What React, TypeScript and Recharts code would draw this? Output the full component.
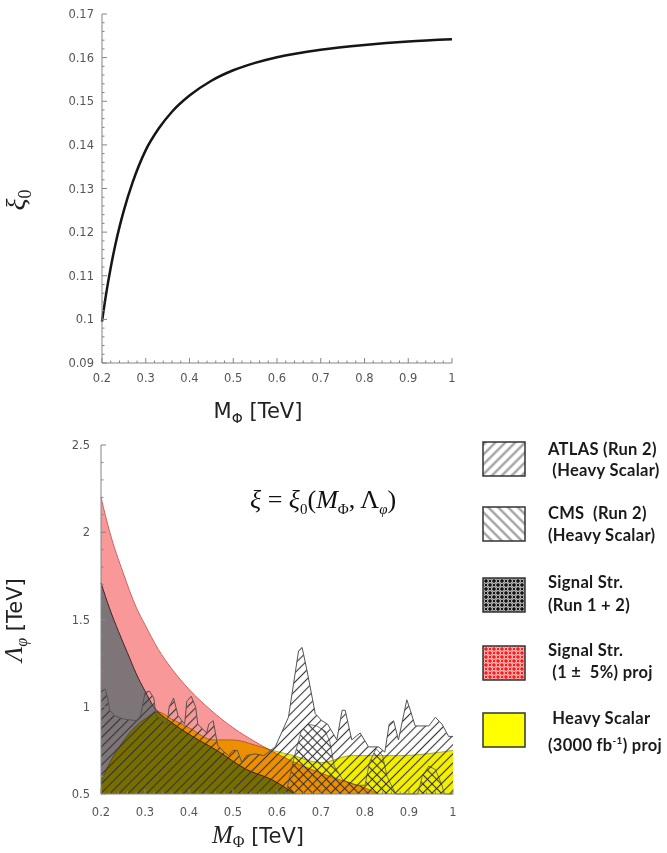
import React from "react"
import { ComposedChart, LineChart, Line, Area, XAxis, YAxis, Legend } from "recharts"

// ---- top panel: xi_0 against M_Phi ----
const massTop = [0.2, 0.21, 0.22, 0.23, 0.24, 0.25, 0.27, 0.3, 0.33, 0.36, 0.4, 0.45, 0.5, 0.55, 0.6, 0.7, 0.8, 0.9, 1.0]
const xi0 = [0.0995, 0.1062, 0.1119, 0.1169, 0.1212, 0.125, 0.1314, 0.1388, 0.1438, 0.1476, 0.1513, 0.1547, 0.1571, 0.1588, 0.1601, 0.1618, 0.1629, 0.1637, 0.1642]

const massMajor = [0.2, 0.3, 0.4, 0.5, 0.6, 0.7, 0.8, 0.9, 1]
const massLabels = ["0.2", "0.3", "0.4", "0.5", "0.6", "0.7", "0.8", "0.9", "1"]
const xiMajor = [0.09, 0.1, 0.11, 0.12, 0.13, 0.14, 0.15, 0.16, 0.17]
const xiLabels = ["0.09", "0.1", "0.11", "0.12", "0.13", "0.14", "0.15", "0.16", "0.17"]

// ---- bottom panel: exclusion regions in (M_Phi, Lambda_phi) ----
const yellowMass = [0.2, 0.22, 0.25, 0.28, 0.3, 0.33, 0.36, 0.4, 0.455, 0.5, 0.55, 0.59, 0.637, 0.7, 0.77, 0.83, 0.88, 0.94, 1.0]
const yellowLambda = [0.57, 0.68, 0.8, 0.89, 0.93, 0.97, 0.93, 0.88, 0.81, 0.81, 0.78, 0.75, 0.72, 0.68, 0.72, 0.72, 0.72, 0.73, 0.75]

const darkMass = [0.2, 0.22, 0.24, 0.26, 0.28, 0.3, 0.32, 0.33, 0.36, 0.395, 0.463, 0.531, 0.59, 0.64]
const darkLambda = [1.71, 1.56, 1.43, 1.31, 1.19, 1.09, 1.0, 0.97, 0.91, 0.85, 0.75, 0.64, 0.58, 0.5]

const redMass = [0.2, 0.22, 0.25, 0.28, 0.3, 0.33, 0.36, 0.4, 0.45, 0.5, 0.55, 0.6, 0.65, 0.7, 0.75, 0.8, 0.83]
const redLambda = [2.2, 2.0, 1.77, 1.57, 1.47, 1.33, 1.22, 1.1, 0.98, 0.88, 0.8, 0.73, 0.67, 0.62, 0.575, 0.535, 0.5]

const atlasMass = [0.2, 0.21, 0.215, 0.22, 0.23, 0.25, 0.28, 0.29, 0.3, 0.31, 0.32, 0.325, 0.35, 0.355, 0.365, 0.375, 0.39, 0.395, 0.405, 0.415, 0.42, 0.44, 0.445, 0.455, 0.46, 0.465, 0.48, 0.49, 0.5, 0.51, 0.52, 0.53, 0.55, 0.57, 0.596, 0.626, 0.649, 0.657, 0.668, 0.687, 0.702, 0.715, 0.736, 0.748, 0.755, 0.77, 0.789, 0.808, 0.831, 0.845, 0.855, 0.865, 0.876, 0.895, 0.903, 0.914, 0.945, 0.96, 0.975, 0.99, 1.0]
const atlasLambda = [1.1, 1.1, 1.05, 0.98, 0.95, 0.93, 0.92, 0.95, 1.08, 1.09, 1.05, 0.95, 0.9, 1.0, 1.05, 0.95, 0.9, 1.03, 1.06, 1.0, 0.9, 0.85, 0.9, 0.92, 0.85, 0.78, 0.74, 0.72, 0.75, 0.75, 0.68, 0.72, 0.73, 0.72, 0.77, 0.94, 1.32, 1.34, 1.21, 0.96, 0.92, 0.9, 0.81, 0.98, 0.98, 0.81, 0.85, 0.77, 0.77, 0.74, 0.9, 0.92, 0.81, 1.04, 0.98, 0.89, 0.89, 0.94, 0.9, 0.83, 0.83]

const cmsMass = [0.62, 0.64, 0.655, 0.67, 0.69, 0.71, 0.72, 0.73, 0.75, 0.78, 0.8, 0.81, 0.825, 0.84, 0.85, 0.87, 0.92, 0.93, 0.945, 0.96, 0.975, 0.98, 1.0]
const cmsLambda = [0.5, 0.72, 0.86, 0.9, 0.89, 0.86, 0.8, 0.66, 0.58, 0.55, 0.55, 0.68, 0.76, 0.72, 0.6, 0.5, 0.5, 0.6, 0.66, 0.64, 0.55, 0.5, 0.5]

const lambdaMajor = [0.5, 1, 1.5, 2, 2.5]
const lambdaLabels = ["0.5", "1", "1.5", "2", "2.5"]

const legendNames = [
  ["ATLAS (Run 2)", " (Heavy Scalar)"],
  ["CMS  (Run 2)", "(Heavy Scalar)"],
  ["Signal Str.", "(Run 1 + 2)"],
  ["Signal Str.", " (1 \u00b1  5%) proj"],
  [" Heavy Scalar", "(3000 fb"],
]

const steps = (a: number, b: number, s: number) =>
  Array.from({ length: Math.round((b - a) / s) + 1 }, (_, i) => +(a + i * s).toFixed(4))

const massTicks = steps(0.2, 1, 0.02)
const xiTicks = steps(0.09, 0.17, 0.002)
const lambdaTicks = steps(0.5, 2.5, 0.1)

const topData = massTop.map((m, i) => ({ m, xi: xi0[i] }))

const bands: Record<string, [number[], number[]]> = {
  yellow: [yellowMass, yellowLambda],
  dark: [darkMass, darkLambda],
  red: [redMass, redLambda],
  cms: [cmsMass, cmsLambda],
  atlas: [atlasMass, atlasLambda],
}
const allMass = Array.from(new Set(Object.values(bands).flatMap(([xs]) => xs))).sort((a, b) => a - b)
const bottomData = allMass.map((m) => {
  const row: Record<string, number> = { m }
  for (const k of Object.keys(bands)) {
    const [xs, ys] = bands[k]
    const i = xs.indexOf(m)
    if (i >= 0) row[k] = ys[i]
  }
  return row
})

const frame = "#858585"
const tickFont = { fontFamily: "DejaVu Sans", fontSize: 11.5, fill: "#555" }

function makeTick(side: string, majors: number[], labels: string[], gap: number) {
  return (props: any) => {
    const { x, y, payload } = props
    const idx = majors.findIndex((v) => Math.abs(v - payload.value) < 1e-6)
    const len = idx >= 0 ? 5 : 2.5
    let line = null
    let text = null
    if (side === "bottom") {
      line = <line x1={x} y1={y} x2={x} y2={y - len} />
      if (idx >= 0) text = <text x={x} y={y + gap} textAnchor="middle" {...tickFont}>{labels[idx]}</text>
    } else if (side === "top") {
      line = <line x1={x} y1={y} x2={x} y2={y + len} />
    } else if (side === "left") {
      line = <line x1={x} y1={y} x2={x + len} y2={y} />
      if (idx >= 0) text = <text x={x - gap} y={y + 4} textAnchor="end" {...tickFont}>{labels[idx]}</text>
    } else {
      line = <line x1={x} y1={y} x2={x - len} y2={y} />
    }
    return (
      <g stroke={frame} strokeWidth={1}>
        {line}
        <g stroke="none">{text}</g>
      </g>
    )
  }
}

function Swatch({ kind }: { kind: string }) {
  const id = `sw-${kind}`
  let fill = `url(#${id})`
  if (kind === "yellow") fill = "#ffff00"
  return (
    <svg width={44} height={36} style={{ display: "block" }}>
      <defs>
        <pattern id="sw-atlas" width={7} height={7} patternUnits="userSpaceOnUse" patternTransform="rotate(45)">
          <rect width={7} height={7} fill="#fff" />
          <line x1={3.5} y1={0} x2={3.5} y2={7} stroke="#9b9b9b" strokeWidth={2.2} />
        </pattern>
        <pattern id="sw-cms" width={7} height={7} patternUnits="userSpaceOnUse" patternTransform="rotate(-45)">
          <rect width={7} height={7} fill="#fff" />
          <line x1={3.5} y1={0} x2={3.5} y2={7} stroke="#9b9b9b" strokeWidth={2.2} />
        </pattern>
        <pattern id="sw-dark" width={8} height={8} patternUnits="userSpaceOnUse">
          <rect width={8} height={8} fill="#111" />
          {[[0, 0], [8, 0], [0, 8], [8, 8], [4, 4]].map(([cx, cy], i) => (
            <circle key={i} cx={cx} cy={cy} r={2.4} fill="none" stroke="#fff" strokeWidth={0.9} />
          ))}
        </pattern>
        <pattern id="sw-red" width={8} height={8} patternUnits="userSpaceOnUse">
          <rect width={8} height={8} fill="#ff1a1a" />
          {[[0, 0], [8, 0], [0, 8], [8, 8], [4, 4]].map(([cx, cy], i) => (
            <circle key={i} cx={cx} cy={cy} r={2.4} fill="none" stroke="#fff" strokeWidth={0.9} />
          ))}
        </pattern>
      </defs>
      <rect x={1} y={1} width={42} height={34} fill={fill} stroke="#333" strokeWidth={1.5} />
    </svg>
  )
}

const legendRows = [
  { kind: "atlas", box: 11, l1: 19, l2: 40, x1: 548, x2: 548 },
  { kind: "cms", box: 76, l1: 83, l2: 105, x1: 548, x2: 548 },
  { kind: "dark", box: 147, l1: 152, l2: 175, x1: 548, x2: 548 },
  { kind: "red", box: 215, l1: 220, l2: 242, x1: 548, x2: 548 },
  { kind: "yellow", box: 282, l1: 288, l2: 310, x1: 548, x2: 548 },
]

const legendText: React.CSSProperties = {
  position: "absolute",
  fontFamily: "Lato",
  fontWeight: 700,
  fontSize: 16.5,
  letterSpacing: 0.3,
  lineHeight: "20px",
  color: "#1a1a1a",
  whiteSpace: "pre",
}

function LegendBox() {
  return (
    <div style={{ position: "relative", width: 667, height: 423 }}>
      {legendRows.map((r, i) => (
        <React.Fragment key={r.kind}>
          <div style={{ position: "absolute", left: 482, top: r.box }}>
            <Swatch kind={r.kind} />
          </div>
          <div style={{ ...legendText, left: r.x1, top: r.l1 - 10 }}>{legendNames[i][0]}</div>
          <div style={{ ...legendText, left: r.x2, top: r.l2 - 10 }}>
            {legendNames[i][1]}
            {r.kind === "yellow" ? (
              <>
                <sup style={{ fontSize: 10 }}>-1</sup>) proj
              </>
            ) : null}
          </div>
        </React.Fragment>
      ))}
    </div>
  )
}

function TopPanel() {
  return (
    <LineChart width={470} height={430} data={topData} margin={{ top: 14, right: 18, bottom: 0, left: 0 }}>
      <XAxis
        dataKey="m"
        type="number"
        domain={[0.2, 1]}
        ticks={massTicks}
        interval={0}
        tickSize={0}
        tickMargin={0}
        height={67}
        axisLine={{ stroke: frame }}
        tick={makeTick("bottom", massMajor, massLabels, 19)}
        label={() => (
          <text x={258} y={418} textAnchor="middle" fontFamily="DejaVu Sans" fontSize={21} fill="#222">
            M<tspan fontSize={14} dy={5}>Φ</tspan>
            <tspan dy={-5}> [TeV]</tspan>
          </text>
        )}
      />
      <XAxis xAxisId="t" orientation="top" type="number" domain={[0.2, 1]} ticks={massTicks} interval={0} tickSize={0} tickMargin={0} height={0} axisLine={{ stroke: frame }} tick={makeTick("top", massMajor, massLabels, 0)} />
      <YAxis
        type="number"
        domain={[0.09, 0.17]}
        ticks={xiTicks}
        interval={0}
        tickSize={0}
        tickMargin={0}
        width={102}
        axisLine={{ stroke: frame }}
        tick={makeTick("left", xiMajor, xiLabels, 8)}
        label={() => (
          <text x={25} y={200} transform="rotate(-90 25 200)" textAnchor="middle" fontFamily="Liberation Serif" fontStyle="italic" fontSize={28} fill="#222">
            ξ<tspan fontSize={18} fontStyle="normal" dy={6}>0</tspan>
          </text>
        )}
      />
      <YAxis yAxisId="r" orientation="right" type="number" domain={[0.09, 0.17]} ticks={xiTicks} interval={0} tickSize={0} tickMargin={0} width={0} axisLine={{ stroke: frame }} tick={makeTick("right", xiMajor, xiLabels, 0)} />
      <Line dataKey="xi" type="monotone" stroke="#151515" strokeWidth={2.5} dot={false} isAnimationActive={false} />
    </LineChart>
  )
}

function BottomPanel() {
  return (
    <ComposedChart width={667} height={423} data={bottomData} margin={{ top: 15, right: 214, bottom: 0, left: 0 }}>
      <defs>
        <pattern id="hatch-atlas" width={6.5} height={6.5} patternUnits="userSpaceOnUse" patternTransform="rotate(45)">
          <line x1={3.25} y1={0} x2={3.25} y2={6.5} stroke="#333" strokeWidth={1.1} />
        </pattern>
        <pattern id="hatch-cms" width={6.5} height={6.5} patternUnits="userSpaceOnUse" patternTransform="rotate(-45)">
          <line x1={3.25} y1={0} x2={3.25} y2={6.5} stroke="#333" strokeWidth={1.1} />
        </pattern>
      </defs>
      <style>{`.mult { mix-blend-mode: multiply; }`}</style>
      <XAxis
        dataKey="m"
        type="number"
        domain={[0.2, 1]}
        ticks={massTicks}
        interval={0}
        tickSize={0}
        tickMargin={0}
        height={59}
        axisLine={{ stroke: frame }}
        tick={makeTick("bottom", massMajor, massLabels, 22)}
        label={() => (
          <text x={258} y={413} textAnchor="middle" fontFamily="DejaVu Sans" fontSize={21} fill="#222">
            <tspan fontFamily="Liberation Serif" fontStyle="italic" fontSize={25}>M</tspan>
            <tspan fontFamily="Liberation Serif" fontSize={16} dy={4}>Φ</tspan>
            <tspan dy={-4}> [TeV]</tspan>
          </text>
        )}
      />
      <XAxis xAxisId="t" orientation="top" type="number" domain={[0.2, 1]} ticks={massTicks} interval={0} tickSize={0} tickMargin={0} height={0} axisLine={{ stroke: frame }} tick={makeTick("top", massMajor, massLabels, 0)} />
      <YAxis
        type="number"
        domain={[0.5, 2.5]}
        ticks={lambdaTicks}
        interval={0}
        tickSize={0}
        tickMargin={0}
        width={101}
        axisLine={{ stroke: frame }}
        tick={makeTick("left", lambdaMajor, lambdaLabels, 11)}
        label={() => (
          <text x={22} y={190} transform="rotate(-90 22 190)" textAnchor="middle" fontFamily="DejaVu Sans" fontSize={21} fill="#222">
            <tspan fontFamily="Liberation Serif" fontStyle="italic" fontSize={25}>Λ</tspan>
            <tspan fontFamily="Liberation Serif" fontStyle="italic" fontSize={16} dy={5}>φ</tspan>
            <tspan dy={-5}> [TeV]</tspan>
          </text>
        )}
      />
      <YAxis yAxisId="r" orientation="right" type="number" domain={[0.5, 2.5]} ticks={lambdaTicks} interval={0} tickSize={0} tickMargin={0} width={0} axisLine={{ stroke: frame }} tick={makeTick("right", lambdaMajor, lambdaLabels, 0)} />
      <Area className="mult" dataKey="yellow" name="Heavy Scalar (3000 fb-1) proj" type="monotone" baseValue={0.5} connectNulls fill="#f4f000" fillOpacity={1} stroke="#9a9a00" strokeWidth={0.8} isAnimationActive={false} />
      <Area className="mult" dataKey="dark" name="Signal Str. (Run 1 + 2)" type="monotone" baseValue={0.5} connectNulls fill="#81c4c9" fillOpacity={1} stroke="#4a3540" strokeWidth={1} isAnimationActive={false} />
      <Area className="mult" dataKey="red" name="Signal Str. (1 ± 5%) proj" type="monotone" baseValue={0.5} connectNulls fill="#f89898" fillOpacity={1} stroke="#d06060" strokeWidth={1} isAnimationActive={false} />
      <Area dataKey="cms" name="CMS (Run 2) (Heavy Scalar)" type="linear" baseValue={0.5} connectNulls fill="url(#hatch-cms)" fillOpacity={1} stroke="#555" strokeWidth={0.8} isAnimationActive={false} />
      <Area dataKey="atlas" name="ATLAS (Run 2) (Heavy Scalar)" type="linear" baseValue={0.5} connectNulls fill="url(#hatch-atlas)" fillOpacity={1} stroke="#555" strokeWidth={1} isAnimationActive={false} />
      <Legend layout="vertical" align="center" verticalAlign="middle" wrapperStyle={{ left: 0, top: 0, width: 667, height: 423, pointerEvents: "none" }} content={() => <LegendBox />} />
    </ComposedChart>
  )
}

export default function App() {
  return (
    <div style={{ position: "absolute", left: 0, top: 0, width: 667, height: 853, background: "#fff" }}>
      <div style={{ position: "absolute", left: 0, top: 0 }}>
        <TopPanel />
      </div>
      <div style={{ position: "absolute", left: 0, top: 430 }}>
        <BottomPanel />
      </div>
      <div
        style={{
          position: "absolute",
          left: 250,
          top: 485,
          fontFamily: "Liberation Serif",
          fontSize: 26,
          color: "#111",
          whiteSpace: "nowrap",
        }}
      >
        <i>ξ</i> = <i>ξ</i>
        <sub style={{ fontSize: 15 }}>0</sub>(<i>M</i>
        <sub style={{ fontSize: 15 }}>Φ</sub>, Λ<sub style={{ fontSize: 15 }}><i>φ</i></sub>)
      </div>
    </div>
  )
}
